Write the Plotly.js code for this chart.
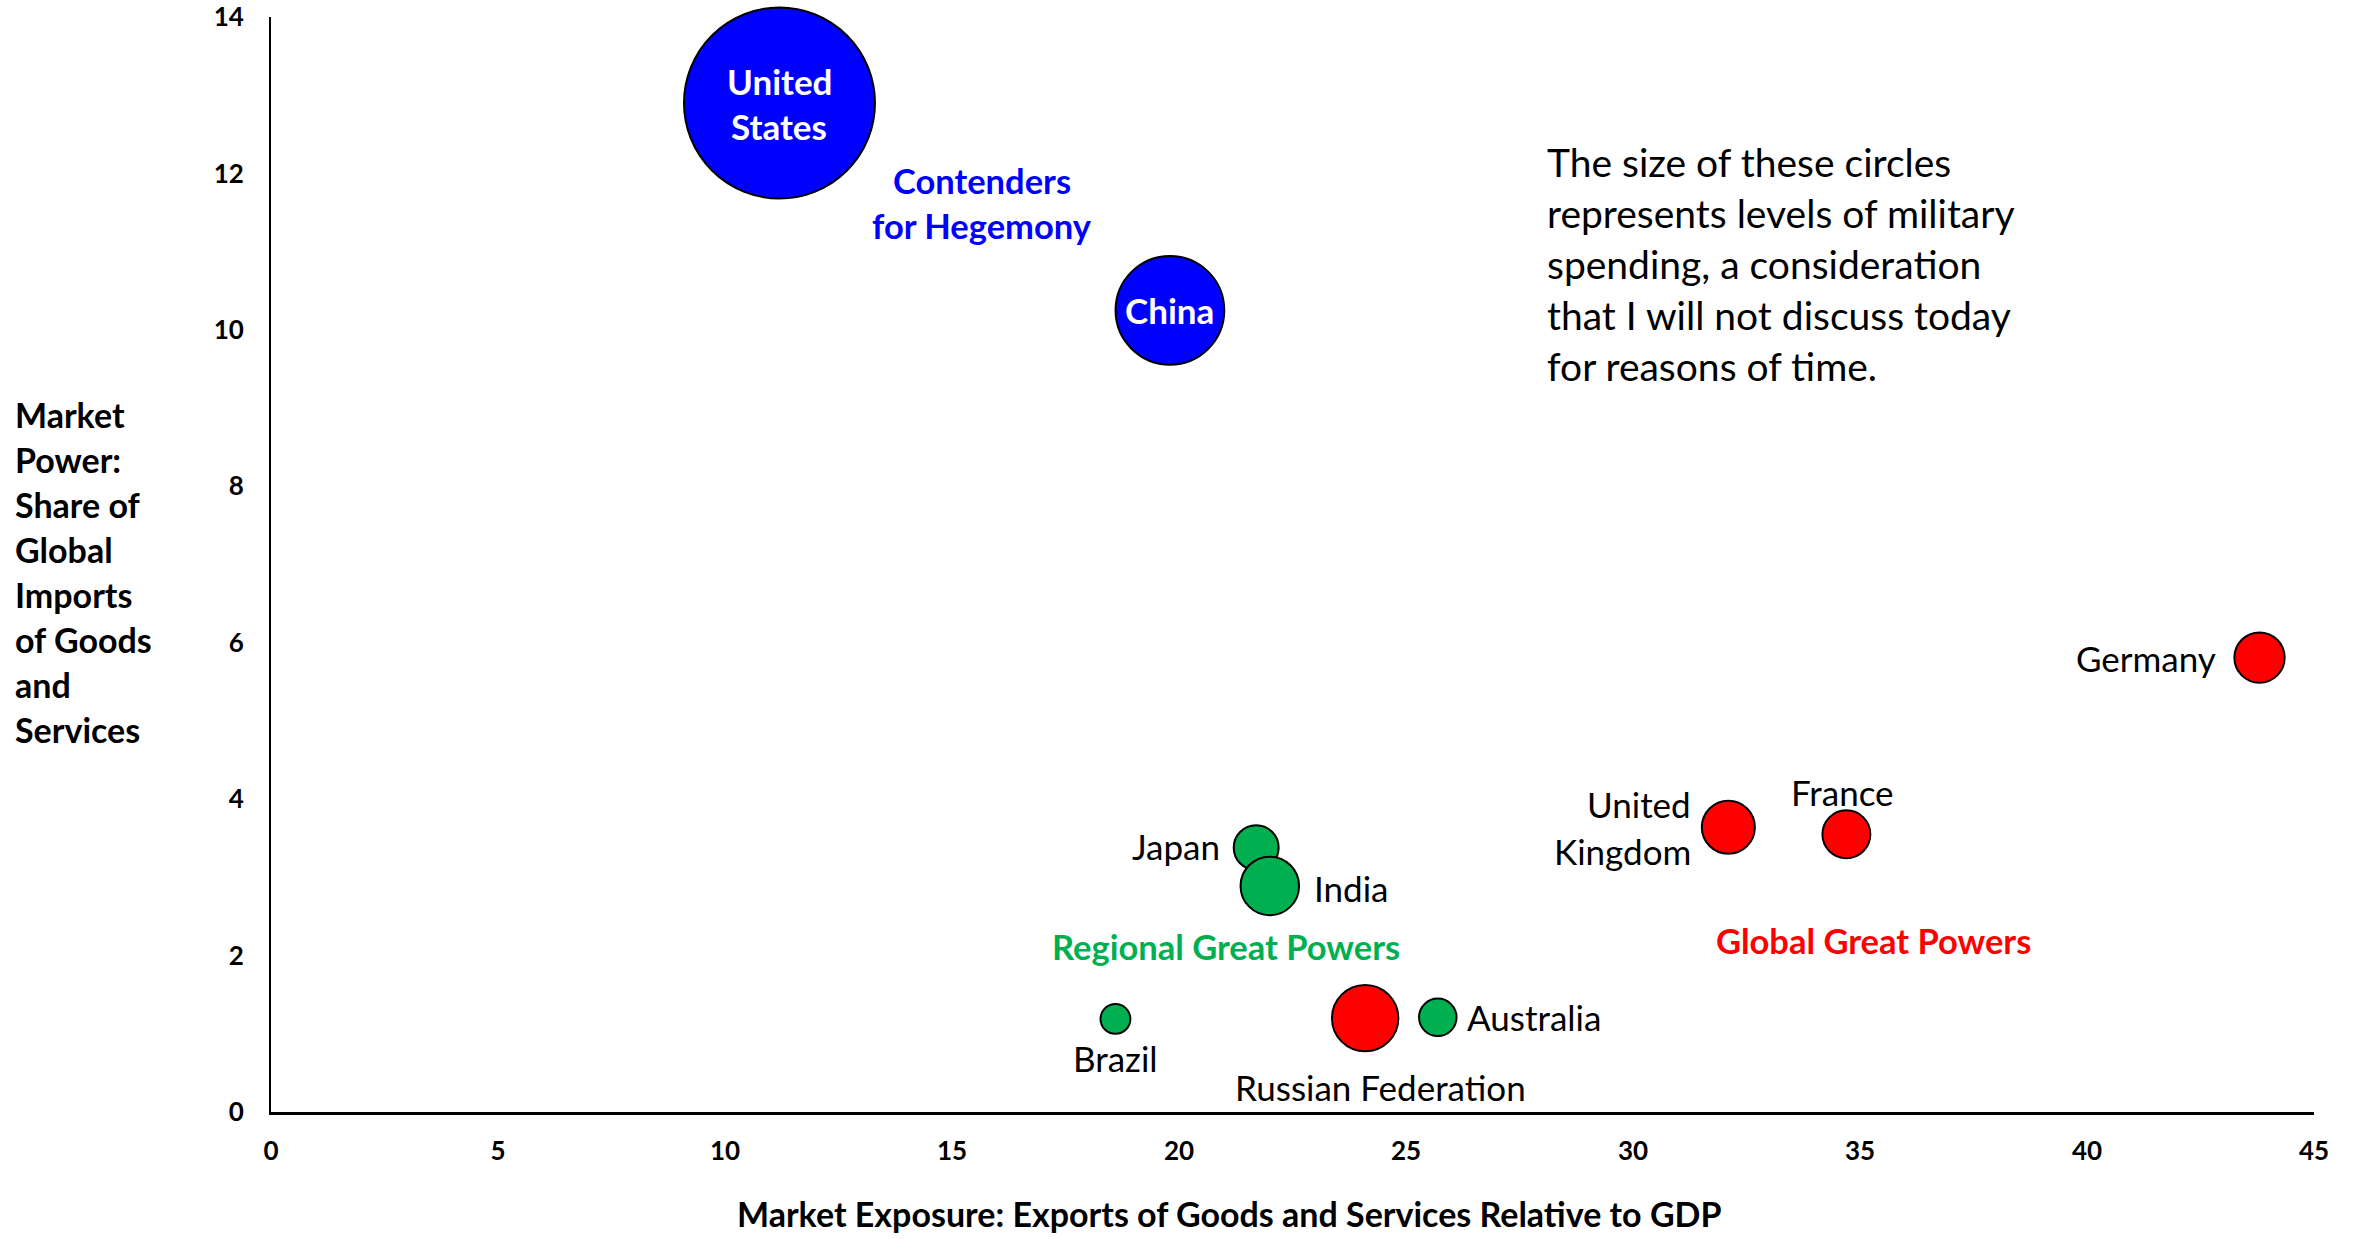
<!DOCTYPE html>
<html>
<head>
<meta charset="utf-8">
<script src="https://cdn.plot.ly/plotly-3.0.1.min.js"></script>
<style>
  html, body { margin: 0; padding: 0; background: #ffffff; }
  #chart { width: 2361px; height: 1239px; }
</style>
</head>
<body>
<div id="chart"></div>
<script>
// ---------- data ----------
const countries = ["United States", "China", "Japan", "India", "Brazil", "Russian Federation", "Australia", "Germany", "United Kingdom", "France"];
const exportsPctGDP = [11.2, 19.8, 21.7, 22.0, 18.6, 24.1, 25.7, 43.8, 32.1, 34.7];
const importShare = [12.9, 10.25, 3.38, 2.89, 1.19, 1.2, 1.21, 5.81, 3.64, 3.55];
const militarySpending = [778, 252, 43, 73, 19, 94, 30, 54, 60, 49];
const groups = ["contender", "contender", "regional", "regional", "regional", "global", "regional", "global", "global", "global"];

const xTicks = [0, 5, 10, 15, 20, 25, 30, 35, 40, 45];
const yTicks = [0, 2, 4, 6, 8, 10, 12, 14];

const xTitle = "Market Exposure: Exports of Goods and Services Relative to GDP";
const yTitleLines = ["Market", "Power:", "Share of", "Global", "Imports", "of Goods", "and", "Services"];
const noteLines = ["The size of these circles", "represents levels of military", "spending, a consideration", "that I will not discuss today", "for reasons of time."];

const groupLabels = [
  {lines: ["Contenders", "for Hegemony"], x: 15.67, y: 11.62, group: "contender"},
  {lines: ["Regional Great Powers"], x: 21.04, y: 2.11, group: "regional"},
  {lines: ["Global Great Powers"], x: 35.3, y: 2.19, group: "global"}
];

// ---------- styling ----------
const groupColor = {contender: "#0000FF", regional: "#00B050", global: "#FF0000"};
const FONT = "Lato, 'Open Sans', sans-serif";
const L = 271, R = 47, T = 17, B = 127;
const W = 2361, H = 1239;
const plotW = W - L - R, plotH = H - T - B;

// label placement per country
const labelPlace = {
  "United States": {anchor: "center", dx: 0, dy: 0, inside: true},
  "China": {anchor: "center", dx: 0, dy: 0, inside: true},
  "Japan": {anchor: "right", dx: -34, dy: 2},
  "India": {anchor: "left", dx: 42, dy: -2},
  "Brazil": {anchor: "center", dx: 0, dy: -39},
  "Russian Federation": {anchor: "center", dx: 15, dy: -69},
  "Australia": {anchor: "left", dx: 27, dy: 0},
  "Germany": {anchor: "right", dx: -42, dy: 0},
  "United Kingdom": {anchor: "right", dx: -35, dy: 0, split: true},
  "France": {anchor: "center", dx: -4, dy: 42}
};

const maxD = 191;
const sizeref = 2 * Math.max(...militarySpending) / (maxD * maxD);

const trace = {
  type: "scatter",
  mode: "markers",
  x: exportsPctGDP,
  y: importShare,
  text: countries,
  hoverinfo: "text",
  cliponaxis: false,
  marker: {
    size: militarySpending,
    sizemode: "area",
    sizeref: sizeref,
    color: groups.map(g => groupColor[g]),
    opacity: 1,
    line: {color: "#000000", width: 2}
  },
  showlegend: false
};

const annotations = [];

// helper: multi-line text with custom line spacing (pixels)
function addLines(lines, base, spacing) {
  const n = lines.length;
  lines.forEach((t, i) => {
    const off = ((n - 1) / 2 - i) * spacing;
    annotations.push(Object.assign({}, base, {text: t, yshift: (base.yshift || 0) + off, showarrow: false}));
  });
}

countries.forEach((c, i) => {
  const p = labelPlace[c];
  if (p.inside) {
    const words = c.split(" ");
    addLines(words, {
      x: exportsPctGDP[i], y: importShare[i], xref: "x", yref: "y",
      xanchor: "center", yanchor: "middle", xshift: p.dx, yshift: p.dy,
      font: {family: FONT, size: 35, color: "#ffffff", weight: "bold"}
    }, 45);
  } else {
    const lines = p.split ? c.split(" ") : [c];
    addLines(lines, {
      x: exportsPctGDP[i], y: importShare[i], xref: "x", yref: "y",
      xanchor: p.anchor, yanchor: "middle", xshift: p.dx, yshift: p.dy,
      align: p.anchor === "center" ? "center" : p.anchor,
      font: {family: FONT, size: 35, color: "#000000"}
    }, 47);
  }
});

groupLabels.forEach(g => {
  addLines(g.lines, {
    x: g.x, y: g.y, xref: "x", yref: "y", xanchor: "center", yanchor: "middle",
    font: {family: FONT, size: 34.5, color: groupColor[g.group], weight: "bold"}
  }, 45);
});

// note text block
addLines(noteLines, {
  x: (1545 - L) / plotW, y: (H - B - 263.5) / plotH, xref: "paper", yref: "paper",
  xanchor: "left", yanchor: "middle", align: "left",
  font: {family: FONT, size: 39, color: "#000000"}
}, 51);

// y axis title (multi-line, left aligned)
addLines(yTitleLines, {
  x: (13 - L) / plotW, y: (H - B - 571.5) / plotH, xref: "paper", yref: "paper",
  xanchor: "left", yanchor: "middle", align: "left",
  font: {family: FONT, size: 34, color: "#000000", weight: "bold"}
}, 45);

// x axis title
annotations.push({
  text: xTitle, showarrow: false, x: (1229 - L) / plotW, y: (H - B - 1213) / plotH,
  xref: "paper", yref: "paper", xanchor: "center", yanchor: "middle", borderpad: 0,
  font: {family: FONT, size: 34, color: "#000000", weight: "bold"}
});

const layout = {
  width: W, height: H,
  margin: {l: L, r: R, t: T, b: B, pad: 0},
  paper_bgcolor: "#ffffff",
  plot_bgcolor: "#ffffff",
  font: {family: FONT, color: "#000000"},
  xaxis: {
    range: [0, 45], tickvals: xTicks, ticktext: xTicks.map(String),
    showgrid: false, zeroline: false, showline: true, linecolor: "#000000", linewidth: 3,
    ticks: "", ticklabelstandoff: 14,
    tickfont: {family: FONT, size: 26, color: "#000000", weight: "bold"},
    fixedrange: true
  },
  yaxis: {
    range: [0, 14], tickvals: yTicks, ticktext: yTicks.map(String),
    showgrid: false, zeroline: false, showline: true, linecolor: "#000000", linewidth: 2,
    ticks: "", ticklabelstandoff: 20,
    tickfont: {family: FONT, size: 26, color: "#000000", weight: "bold"},
    fixedrange: true
  },
  annotations: annotations,
  showlegend: false
};

Plotly.newPlot("chart", [trace], layout, {displayModeBar: false, staticPlot: true});
</script>
</body>
</html>
